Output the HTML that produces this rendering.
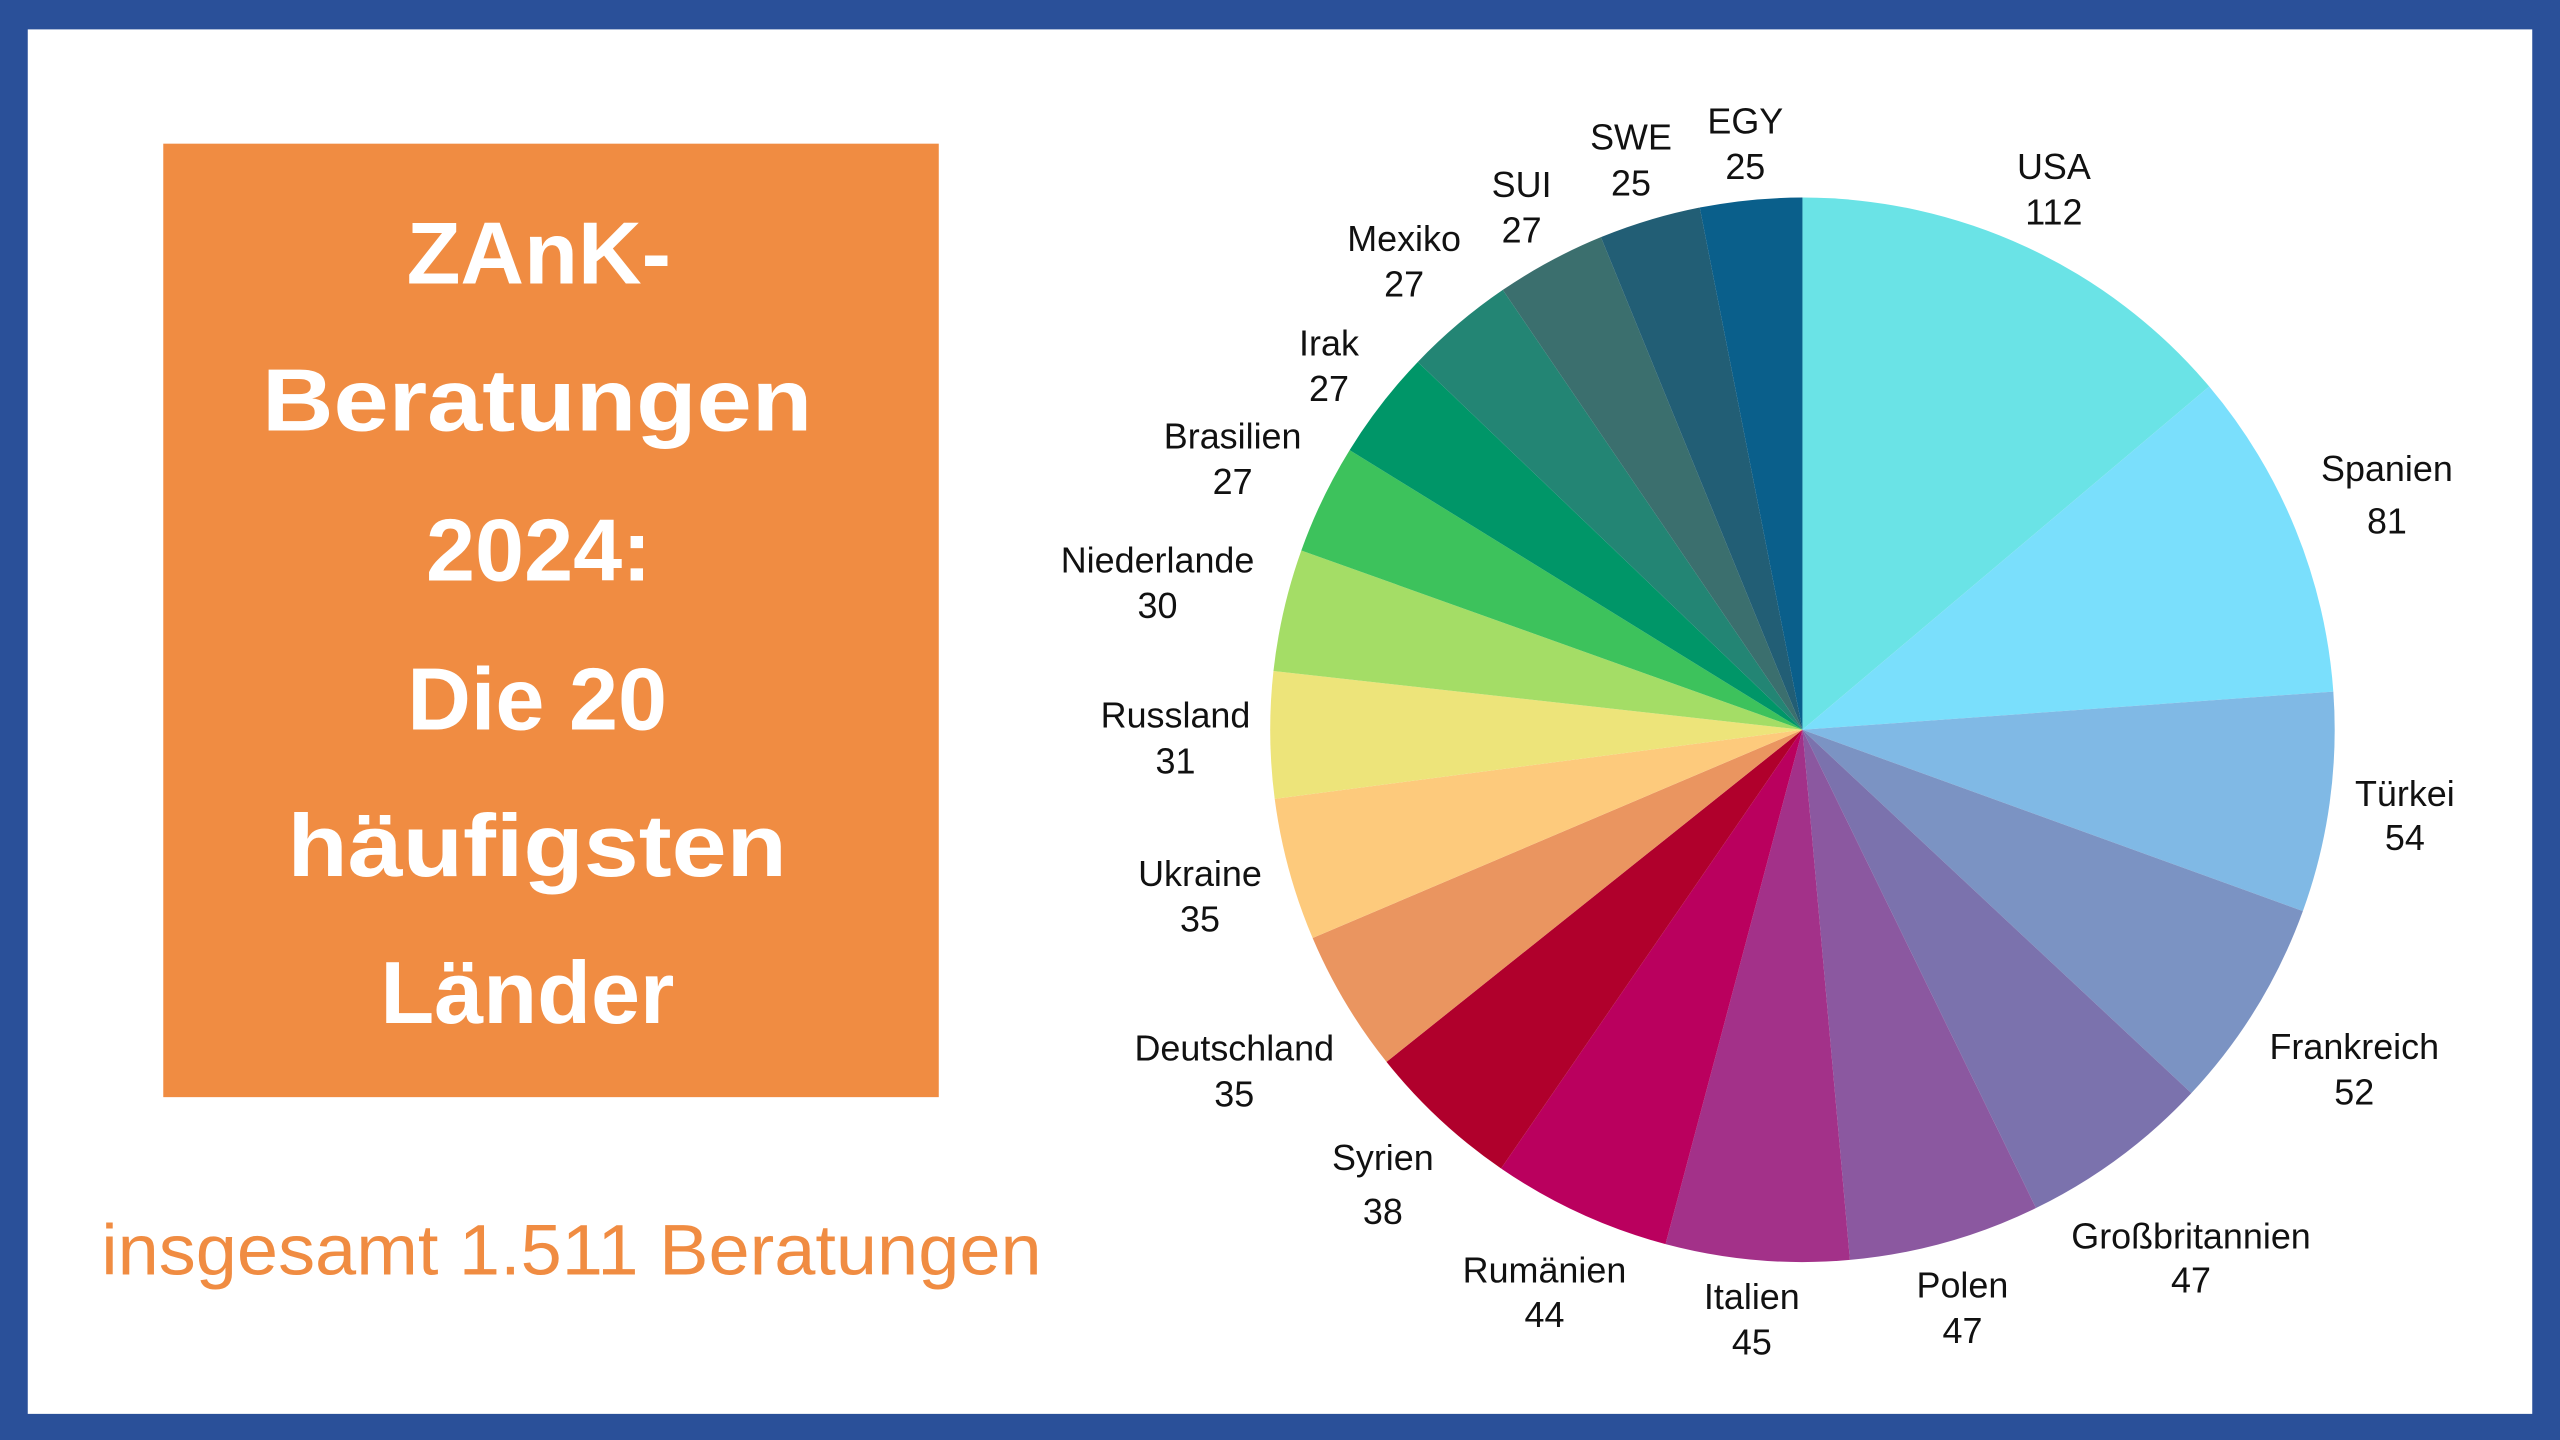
<!DOCTYPE html>
<html><head><meta charset="utf-8"><style>
html,body{margin:0;padding:0;width:2560px;height:1440px;overflow:hidden;background:#2a5099}
svg{display:block}
</style></head><body>
<svg id="s" width="2560" height="1440" viewBox="0 0 1568 882" xmlns="http://www.w3.org/2000/svg">
<rect x="0" y="0" width="1568" height="882" fill="#2a5099"/>
<rect x="17" y="18" width="1534" height="848" fill="#ffffff"/>
<rect x="100" y="88" width="475" height="584" fill="#f08c42"/>
<g font-family="Liberation Sans, sans-serif" font-weight="bold" font-size="54" fill="#fff" text-anchor="middle" dominant-baseline="central">
<text x="330" y="155">ZAnK-</text>
<text x="329" y="245" textLength="337" lengthAdjust="spacingAndGlyphs">Beratungen</text>
<text x="330" y="337">2024:</text>
<text x="329" y="428">Die 20</text>
<text x="329" y="518" textLength="306" lengthAdjust="spacingAndGlyphs">häufigsten</text>
<text x="323" y="608">Länder</text>
</g>
<text x="350" y="766" font-family="Liberation Sans, sans-serif" font-size="44" fill="#f08c42" text-anchor="middle" dominant-baseline="central" textLength="576" lengthAdjust="spacingAndGlyphs">insgesamt 1.511 Beratungen</text>
<g id="pie"></g>
<g id="lab" font-family="Liberation Sans, sans-serif" font-size="22" fill="#111" text-anchor="middle" dominant-baseline="central"></g>
</svg>
<script>
var d=[["USA",112,"#6ae3e6",1258,102,130],["Spanien",81,"#7adffc",1462,287,319],["Türkei",54,"#80b9e5",1473,486,513],["Frankreich",52,"#7b93c3",1442,641,669],["Großbritannien",47,"#7b72ad",1342,757,784],["Polen",47,"#8b58a0",1202,787,815],["Italien",45,"#a33189",1073,794,822],["Rumänien",44,"#ba005e",946,778,805],["Syrien",38,"#b0002c",847,709,742],["Deutschland",35,"#ea9560",756,642,670],["Ukraine",35,"#fdca7c",735,535,563],["Russland",31,"#ede47a",720,438,466],["Niederlande",30,"#a4dd66",709,343,371],["Brasilien",27,"#3dc25c",755,267,295],["Irak",27,"#009668",814,210,238],["Mexiko",27,"#238574",860,146,174],["SUI",27,"#3b6f6e",932,113,141],["SWE",25,"#225e75",999,84,112],["EGY",25,"#0a5f8b",1069,74,102]];
var tot=0;d.forEach(function(e){tot+=e[1]});
var cx=1104,cy=447,r=326,a=0,ns="http://www.w3.org/2000/svg",P=document.getElementById("pie"),L=document.getElementById("lab");
d.forEach(function(e){
var b=a+e[1]/tot*2*Math.PI;
var x1=cx+r*Math.sin(a),y1=cy-r*Math.cos(a),x2=cx+r*Math.sin(b),y2=cy-r*Math.cos(b);
var p=document.createElementNS(ns,"path");
p.setAttribute("d","M"+cx+","+cy+"L"+x1+","+y1+"A"+r+","+r+" 0 "+((b-a)>Math.PI?1:0)+",1 "+x2+","+y2+"Z");
p.setAttribute("fill",e[2]);P.appendChild(p);a=b;
var t=document.createElementNS(ns,"text");t.setAttribute("x",e[3]);t.setAttribute("y",e[4]);t.textContent=e[0];L.appendChild(t);
var n=document.createElementNS(ns,"text");n.setAttribute("x",e[3]);n.setAttribute("y",e[5]);n.textContent=e[1];L.appendChild(n);
});
</script>
</body></html>
